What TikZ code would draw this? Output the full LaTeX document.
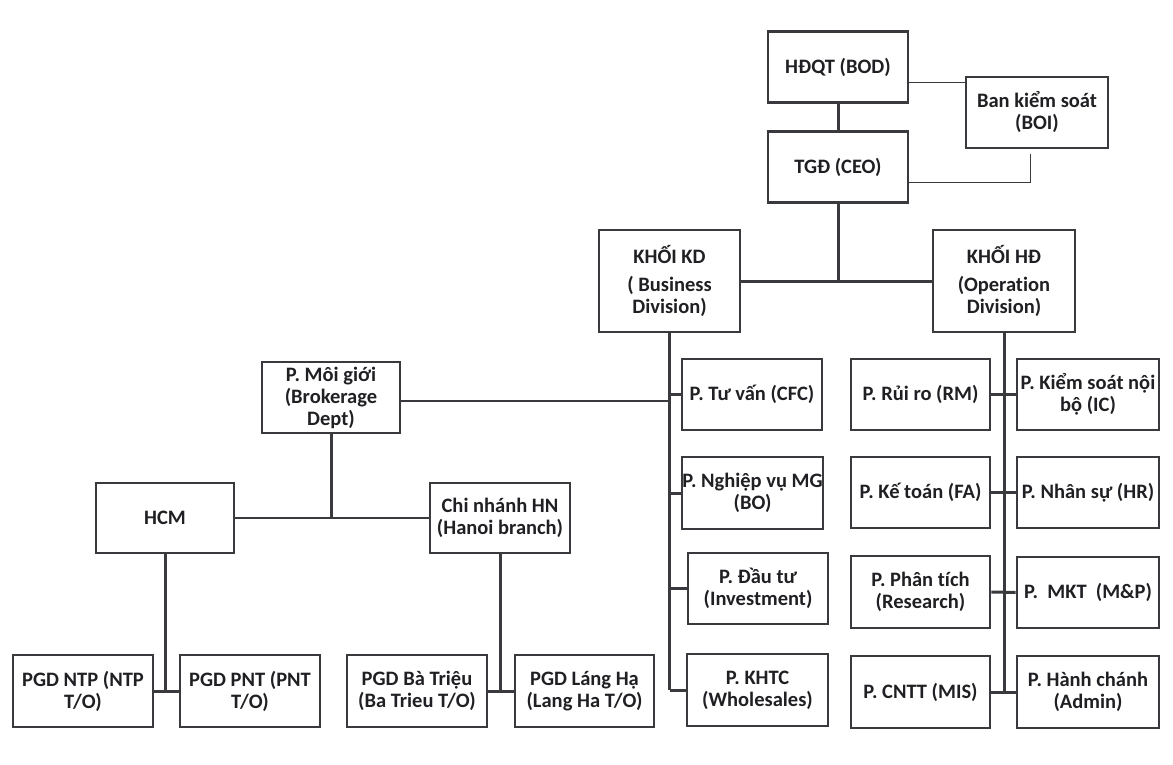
\documentclass[tikz,border=0pt]{standalone}
\usepackage{fontspec}
\setmainfont{Carlito}[Ligatures={NoCommon}]
\definecolor{ln}{RGB}{58,58,62}
\definecolor{tx}{RGB}{32,32,36}
\begin{document}
\begin{tikzpicture}[x=1pt,y=-1pt,
  box/.style={draw=ln, line width=2.6pt, rectangle, inner sep=0pt, align=center,
    text=tx, font=\bfseries\fontsize{20.5}{22}\selectfont,
    minimum width=140pt, minimum height=71pt},
  conn/.style={draw=ln, line width=3pt},
  bus/.style={draw=ln, line width=2pt},
  fine/.style={draw=ln, line width=0.9pt}]
\fill[white] (0,0) rectangle (1173,765);
\useasboundingbox (0,0) rectangle (1173,765);

% top
\node[box] (hdqt) at (838,67) {HĐQT (BOD)};
\node[box, minimum width=142pt] (boi) at (1037,112.5) {Ban kiểm soát\\(BOI)};
\node[box] (tgd) at (838,167) {TGĐ (CEO)};
\node[box, minimum width=141pt, minimum height=102pt] (kd) at (669.5,281) {KHỐI KD\\[6pt]( Business\\Division)};
\node[box, minimum width=142pt, minimum height=102pt] (hd) at (1004,281) {KHỐI HĐ\\[6pt](Operation\\Division)};

% brokerage branch
\node[box, minimum width=138pt] (brok) at (331,397.5) {P. Môi giới\\(Brokerage\\Dept)};
\node[box, minimum width=138pt, minimum height=70pt] (hcm) at (165,518) {HCM};
\node[box, minimum height=70pt] (hn) at (500,518) {Chi nhánh HN\\(Hanoi branch)};
\node[box, minimum height=72pt] (ntp) at (83,691) {PGD NTP (NTP\\T/O)};
\node[box, minimum height=72pt] (pnt) at (250,691) {PGD PNT (PNT\\T/O)};
\node[box, minimum height=72pt] (btrieu) at (417,691) {PGD Bà Triệu\\(Ba Trieu T/O)};
\node[box, minimum width=139pt, minimum height=72pt] (langha) at (584.5,691) {PGD Láng Hạ\\(Lang Ha T/O)};

% business division
\node[box] (tuvan) at (752,394.5) {P. Tư vấn (CFC)};
\node[box, minimum width=141pt, minimum height=72pt] (nghiepvu) at (752.5,493) {P. Nghiệp vụ MG\\(BO)};
\node[box] (dautu) at (758,588.5) {P. Đầu tư\\(Investment)};
\node[box, minimum width=141pt, minimum height=72pt] (khtc) at (757.5,690) {P. KHTC\\(Wholesales)};

% operation division
\node[box, minimum width=139pt] (ruiro) at (920.5,394.5) {P. Rủi ro (RM)};
\node[box, minimum width=139pt] (ketoan) at (920.5,492.5) {P. Kế toán (FA)};
\node[box, minimum width=139pt, minimum height=72pt] (phantich) at (920.5,592) {P. Phân tích\\(Research)};
\node[box, minimum width=139pt, minimum height=72pt] (cntt) at (920.5,692) {P. CNTT (MIS)};
\node[box, minimum width=142pt] (kiemsoat) at (1088,394.5) {P. Kiểm soát nội\\bộ (IC)};
\node[box, minimum width=142pt] (nhansu) at (1088,492.5) {P. Nhân sự (HR)};
\node[box, minimum width=142pt] (mkt) at (1088,592.5) {P.~ MKT~ (M\&P)};
\node[box, minimum width=142pt, minimum height=72pt] (hanhchanh) at (1088,692) {P. Hành chánh\\(Admin)};

% top connectors
\draw[conn] (hdqt.south) -- (tgd.north);
\draw[fine] ([yshift=-15pt]hdqt.east) -- ([yshift=-15pt]hdqt.east -| boi.west);
\coordinate (boiend) at ([xshift=-7pt,yshift=-5pt]boi.south);
\draw[fine] ([yshift=-15pt]tgd.east) -| (boiend);
\draw[conn] (tgd.south) -- (tgd.south |- kd.east);
\draw[conn] (kd.east) -- (hd.west);

% business division bus
\draw[conn] (kd.south) -- (kd.south |- khtc.west);
\draw[conn] (kd.south |- tuvan.west) -- (tuvan.west);
\draw[conn] (kd.south |- nghiepvu.west) -- (nghiepvu.west);
\draw[conn] (kd.south |- dautu.west) -- (dautu.west);
\draw[conn] (kd.south |- khtc.west) -- (khtc.west);
\draw[bus] ([yshift=-3pt]brok.east) -- ([yshift=-3pt]brok.east -| kd.south);

% operation division bus
\draw[conn] (hd.south) -- (hd.south |- cntt.east);
\draw[conn] (ruiro.east) -- (kiemsoat.west);
\draw[conn] (ketoan.east) -- (nhansu.west);
\draw[conn] (phantich.east) -- (mkt.west);
\draw[conn] (cntt.east) -- (hanhchanh.west);

% brokerage tree
\draw[conn] (brok.south) -- (brok.south |- hcm.east);
\draw[bus] (hcm.east) -- (hn.west);
\draw[conn] (hcm.south) -- (hcm.south |- ntp.east);
\draw[conn] (ntp.east) -- (pnt.west);
\draw[conn] (hn.south) -- (hn.south |- btrieu.east);
\draw[conn] (btrieu.east) -- (langha.west);
\end{tikzpicture}
\end{document}
